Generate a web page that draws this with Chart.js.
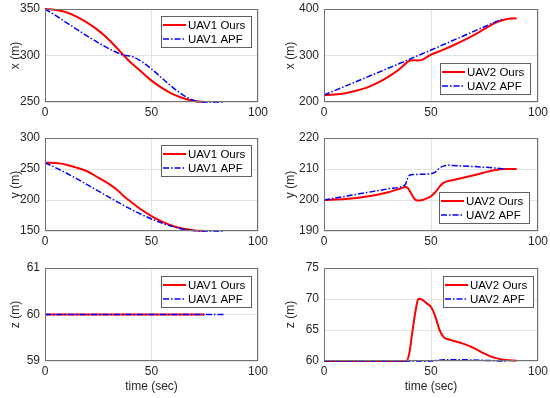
<!DOCTYPE html>
<html>
<head>
<meta charset="utf-8">
<script src="https://cdn.jsdelivr.net/npm/chart.js@4/dist/chart.umd.min.js"></script>
<style>
  html, body { margin: 0; padding: 0; background: #ffffff; }
  body { width: 550px; height: 398px; position: relative; overflow: hidden; }
  canvas { position: absolute; }
</style>
</head>
<body>
<canvas id="c1"></canvas>
<canvas id="c2"></canvas>
<canvas id="c3"></canvas>
<canvas id="c4"></canvas>
<canvas id="c5"></canvas>
<canvas id="c6"></canvas>
<script>
// ---------------- Data ----------------
// UAV1 x
const uav1XOursT = [0, 5, 10, 15, 20, 25, 30, 35, 37, 40, 45, 50, 55, 60, 65, 70, 75];
const uav1XOursV = [350, 349, 346.5, 341.5, 335, 327, 317, 305, 300, 293, 283, 273, 265, 258.5, 254, 251, 250];
const uav1XApfT  = [0, 36, 38, 40, 42, 74, 84];
const uav1XApfV  = [350, 301, 300, 299.5, 298, 250, 250];
// UAV1 y
const uav1YOursT = [0, 5, 10, 15, 20, 25, 30, 35, 37, 40, 45, 50, 55, 60, 65, 70, 75];
const uav1YOursV = [260, 259.5, 257, 252, 246, 236, 226, 213, 206, 198, 185, 174, 165, 158, 153.5, 151, 150];
const uav1YApfT  = [0, 74, 84];
const uav1YApfV  = [260, 150, 150];
// UAV1 z
const uav1ZOursT = [0, 75];
const uav1ZOursV = [60, 60];
const uav1ZApfT  = [0, 84];
const uav1ZApfV  = [60, 60];
// UAV2 x
const uav2XOursT = [0, 5, 10, 15, 20, 25, 30, 35, 38, 40, 42, 44, 46, 50, 55, 60, 65, 70, 75, 80, 85, 90];
const uav2XOursV = [215, 216, 219, 224, 231, 241, 254, 270, 282, 289, 290, 289, 291, 302, 311, 321, 332, 344, 357, 370, 378, 380];
const uav2XApfT  = [0, 40, 83];
const uav2XApfV  = [215, 292, 378];
// UAV2 y
const uav2YOursT = [0, 10, 20, 30, 36, 38, 39, 40, 41, 42, 43.5, 46, 48, 50, 52, 54, 56, 58, 60, 70, 80, 85, 90];
const uav2YOursV = [200, 200.3, 201.1, 202.5, 203.8, 204.2, 204, 203, 201.8, 200.6, 199.8, 200, 200.5, 201.2, 202.5, 204.3, 205.6, 206.1, 206.4, 208, 209.7, 210, 210];
const uav2YApfT  = [0, 10, 20, 30, 37, 38, 39, 40, 42, 45, 50, 52, 54, 56, 58, 60, 70, 80, 85];
const uav2YApfV  = [200, 201.2, 202.4, 203.6, 204.5, 205, 206.8, 208, 208.2, 208.3, 208.5, 209, 210.3, 211, 211.2, 211.1, 210.8, 210.3, 210];
// UAV2 z
const uav2ZOursT = [0, 38.5, 40, 41, 42, 43, 44, 45, 48, 50, 52, 54, 56, 58, 60, 65, 70, 75, 80, 85, 90];
const uav2ZOursV = [60, 60, 61.5, 64, 66.4, 68.5, 70, 70, 69.3, 68.7, 67.2, 65, 63.8, 63.5, 63.3, 62.8, 62.1, 61.2, 60.5, 60.15, 60.05];
const uav2ZApfT  = [0, 50, 53, 56, 60, 65, 70, 75, 80, 85];
const uav2ZApfV  = [60, 60, 60.1, 60.2, 60.2, 60.2, 60.15, 60.1, 60.05, 60];

// Tick labels / axis ranges
const timeTicks = [0, 50, 100];
const uav1XTicks = [250, 300, 350];
const uav1YTicks = [150, 200, 250, 300];
const uav1ZTicks = [59, 60, 61];
const uav2XTicks = [200, 300, 400];
const uav2YTicks = [190, 200, 210, 220];
const uav2ZTicks = [60, 65, 70, 75];

const labelsOurs = ['UAV1 Ours', 'UAV2 Ours'];
const labelsApf = ['UAV1 APF', 'UAV2 APF'];
const yTitles = ['x (m)', 'y (m)', 'z (m)'];
const xTitle = 'time (sec)';

// ---------------- Rendering ----------------
const FONT = '"Liberation Sans", Arial, Helvetica, sans-serif';
const TXT = '#262626';

function pts(t, v) { return t.map((tt, i) => ({ x: tt, y: v[i] })); }

const boxPlugin = {
  id: 'axesBox',
  afterDatasetsDraw(chart) {
    const ca = chart.chartArea, ctx = chart.ctx;
    ctx.save();
    ctx.strokeStyle = '#727272';
    ctx.lineWidth = 1;
    ctx.strokeRect(Math.round(ca.left) + 0.5, Math.round(ca.top) + 0.5,
                   Math.round(ca.right - ca.left) - 1, Math.round(ca.bottom - ca.top) - 1);
    ctx.restore();
  }
};

const legendPlugin = {
  id: 'boxLegend',
  afterDatasetsDraw(chart, args, opts) {
    const ctx = chart.ctx, ca = chart.chartArea;
    const items = chart.data.datasets;
    ctx.save();
    ctx.font = '11.5px ' + FONT;
    const textW = Math.max(...items.map(d => ctx.measureText(d.label).width));
    const lineLen = 23, padL = 2, gap = 2, padR = 6, rowH = 14, padT = 1.5;
    const w = Math.round(padL + lineLen + gap + textW + padR);
    const h = Math.round(padT * 2 + rowH * items.length);
    const x = Math.round(ca.right - opts.dx - w);
    const y = opts.corner === 'tr' ? Math.round(ca.top + opts.dy) : Math.round(ca.bottom - opts.dy - h);
    ctx.fillStyle = '#ffffff';
    ctx.fillRect(x, y, w, h);
    ctx.strokeStyle = '#5f5f5f';
    ctx.lineWidth = 1;
    ctx.strokeRect(x + 0.5, y + 0.5, w, h);
    items.forEach((d, i) => {
      const cy = y + padT + rowH * i + rowH / 2 + 0.5;
      ctx.beginPath();
      ctx.strokeStyle = d.borderColor;
      ctx.lineWidth = d.borderWidth;
      ctx.setLineDash(d.borderDash || []);
      ctx.moveTo(x + padL, cy);
      ctx.lineTo(x + padL + lineLen, cy);
      ctx.stroke();
      ctx.setLineDash([]);
      ctx.fillStyle = '#000000';
      ctx.textBaseline = 'middle';
      ctx.textAlign = 'left';
      ctx.fillText(d.label, x + padL + lineLen + gap, cy + 0.5);
    });
    ctx.restore();
  }
};

const panels = [
  { id: 'c1', left: 0,   top: 0,   w: 275, h: 130, yw: 45, pt: 9, pr: 17, xh: 28, ticks: uav1XTicks, yTitle: yTitles[0], xTitle: null,
    ours: pts(uav1XOursT, uav1XOursV), apf: pts(uav1XApfT, uav1XApfV), uav: 0, corner: 'tr', dx: 7, dy: 7 },
  { id: 'c2', left: 275, top: 0,   w: 275, h: 130, yw: 49, pt: 9, pr: 12, xh: 28, ticks: uav2XTicks, yTitle: yTitles[0], xTitle: null,
    ours: pts(uav2XOursT, uav2XOursV), apf: pts(uav2XApfT, uav2XApfV), uav: 1, corner: 'br', dx: 8, dy: 8 },
  { id: 'c3', left: 0,   top: 130, w: 275, h: 130, yw: 45, pt: 8, pr: 17, xh: 29, ticks: uav1YTicks, yTitle: yTitles[1], xTitle: null,
    ours: pts(uav1YOursT, uav1YOursV), apf: pts(uav1YApfT, uav1YApfV), uav: 0, corner: 'tr', dx: 7, dy: 7 },
  { id: 'c4', left: 275, top: 130, w: 275, h: 130, yw: 49, pt: 8, pr: 12, xh: 29, ticks: uav2YTicks, yTitle: yTitles[1], xTitle: null,
    ours: pts(uav2YOursT, uav2YOursV), apf: pts(uav2YApfT, uav2YApfV), uav: 1, corner: 'br', dx: 9, dy: 8 },
  { id: 'c5', left: 0,   top: 260, w: 275, h: 138, yw: 45, pt: 8, pr: 17, xh: 37, ticks: uav1ZTicks, yTitle: yTitles[2], xTitle: xTitle,
    ours: pts(uav1ZOursT, uav1ZOursV), apf: pts(uav1ZApfT, uav1ZApfV), uav: 0, corner: 'tr', dx: 7, dy: 8 },
  { id: 'c6', left: 275, top: 260, w: 275, h: 138, yw: 49, pt: 8, pr: 12, xh: 37, ticks: uav2ZTicks, yTitle: yTitles[2], xTitle: xTitle,
    ours: pts(uav2ZOursT, uav2ZOursV), apf: pts(uav2ZApfT, uav2ZApfV), uav: 1, corner: 'tr', dx: 5, dy: 8 }
];

panels.forEach(p => {
  const cv = document.getElementById(p.id);
  cv.width = p.w; cv.height = p.h;
  cv.style.left = p.left + 'px'; cv.style.top = p.top + 'px';
  cv.style.width = p.w + 'px'; cv.style.height = p.h + 'px';
  const yMin = p.ticks[0], yMax = p.ticks[p.ticks.length - 1];
  new Chart(cv, {
    type: 'line',
    data: {
      datasets: [
        { label: labelsOurs[p.uav], data: p.ours, borderColor: '#ff0000', borderWidth: 2,
          pointRadius: 0, fill: false, cubicInterpolationMode: 'monotone', clip: false, order: 1 },
        { label: labelsApf[p.uav], data: p.apf, borderColor: '#0000ff', borderWidth: 1.5,
          borderDash: [6, 2, 1.5, 2], pointRadius: 0, fill: false, cubicInterpolationMode: 'monotone', clip: false, order: 0 }
      ]
    },
    options: {
      responsive: false,
      animation: false,
      devicePixelRatio: 1,
      layout: { padding: { top: p.pt, right: p.pr, left: 0, bottom: 0 } },
      plugins: {
        legend: { display: false },
        tooltip: { enabled: false },
        boxLegend: { corner: p.corner, dx: p.dx, dy: p.dy }
      },
      scales: {
        x: {
          type: 'linear', min: timeTicks[0], max: timeTicks[timeTicks.length - 1],
          afterBuildTicks: s => { s.ticks = timeTicks.map(v => ({ value: v })); },
          ticks: { font: { family: FONT, size: 12 }, color: TXT, padding: 3, maxRotation: 0 },
          grid: { color: '#e3e3e3', drawTicks: false, tickLength: 0 },
          border: { display: false },
          title: { display: !!p.xTitle, text: p.xTitle || '', font: { family: FONT, size: 12 }, color: TXT, padding: { top: 4, bottom: 4 } },
          afterFit: s => { s.height = p.xh; s.paddingLeft = 0; s.paddingRight = 0; }
        },
        y: {
          type: 'linear', min: yMin, max: yMax,
          afterBuildTicks: s => { s.ticks = p.ticks.map(v => ({ value: v })); },
          ticks: { font: { family: FONT, size: 12 }, color: TXT, padding: 5 },
          grid: { color: '#e3e3e3', drawTicks: false, tickLength: 0 },
          border: { display: false },
          title: { display: true, text: p.yTitle, font: { family: FONT, size: 12 }, color: TXT, padding: { top: 8, bottom: 0 } },
          afterFit: s => { s.width = p.yw; s.paddingTop = 0; s.paddingBottom = 0; }
        }
      }
    },
    plugins: [boxPlugin, legendPlugin]
  });
});
</script>
</body>
</html>
